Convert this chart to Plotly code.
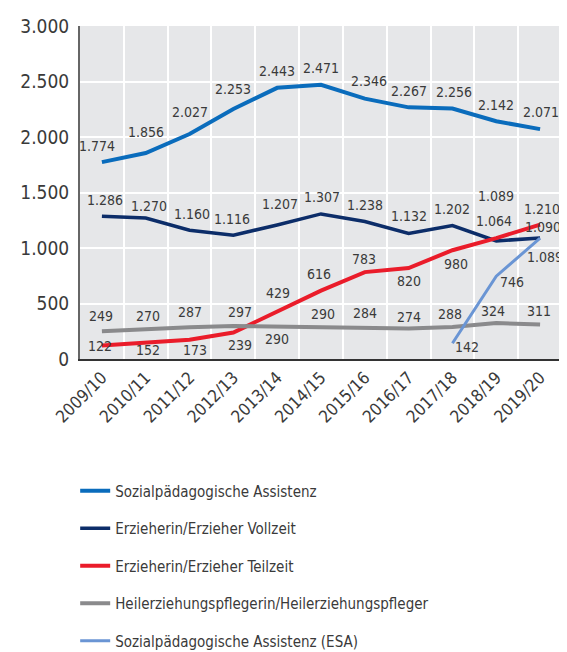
import plotly.graph_objects as go

categories = ["2009/10", "2010/11", "2011/12", "2012/13", "2013/14", "2014/15",
              "2015/16", "2016/17", "2017/18", "2018/19", "2019/20"]
sozial = [1774, 1856, 2027, 2253, 2443, 2471, 2346, 2267, 2256, 2142, 2071]
vollzeit = [1286, 1270, 1160, 1116, 1207, 1307, 1238, 1132, 1202, 1064, 1090]
teilzeit = [122, 152, 173, 239, 429, 616, 783, 820, 980, 1089, 1210]
heil = [249, 270, 287, 297, 290, 290, 284, 274, 288, 324, 311]
esa = [None, None, None, None, None, None, None, None, 142, 746, 1089]
y_ticks = [0, 500, 1000, 1500, 2000, 2500, 3000]

names = ["Sozialpädagogische Assistenz", "Erzieherin/Erzieher Vollzeit",
         "Erzieherin/Erzieher Teilzeit", "Heilerziehungspflegerin/Heilerziehungspfleger",
         "Sozialpädagogische Assistenz (ESA)"]
series = [sozial, vollzeit, teilzeit, heil, esa]
colors = ["#0a6cbc", "#0c2d69", "#ea1c2a", "#8a8a8c", "#6a95d4"]
widths = [4, 3.5, 4, 4, 3]

# label offsets in pixels (dx, dy; dy positive = up) – styling only
label_dx = [
    [-5, 0, 0, 0, 0, 0, 4, 0, 2, 0, 1],
    [3, 3, 2, -1, 3, 1, 0, 0, 0, -2, 3],
    [-2, 2, 5, 7, 1, -2, -1, 0, 4, 0, 2],
    [-1, 2, 0, 7, 0, 2, 0, 0, -2, -3, -1],
    [0, 0, 0, 0, 0, 0, 0, 0, 15, 16, 5],
]
label_dy = [
    [16, 21, 22, 20, 17, 17, 18, 16, 17, 16, 17],
    [16, 12, 16, 16, 21, 17, 17, 17, 17, 20, 11],
    [-1, -8, -10, -13, 18, 17, 13, -13, -14, 42, 16],
    [15, 13, 15, 14, -12, 13, 14, 12, 13, 12, 13],
    [0, 0, 0, 0, 0, 0, 0, 0, -4, -6, -19],
]

def fmt(v):
    return f"{v:,}".replace(",", ".")

FONT = "DejaVu Sans Condensed, Liberation Sans Narrow, sans-serif"
TXT = "#3a3a3a"

fig = go.Figure()
for i, (name, vals) in enumerate(zip(names, series)):
    fig.add_trace(go.Scatter(
        x=categories, y=vals, name=name, mode="lines",
        line=dict(color=colors[i], width=widths[i]),
        legendgroup=f"g{i}", connectgaps=False,
    ))
    for j, v in enumerate(vals):
        if v is None:
            continue
        fig.add_annotation(
            x=categories[j], y=v, text=fmt(v), showarrow=False,
            xshift=label_dx[i][j], yshift=label_dy[i][j],
            font=dict(family=FONT, size=14, color=TXT),
        )

# the page body has an 8px default margin, so the figure is sized to fit
fig.update_layout(
    width=559, height=644,
    margin=dict(l=72, r=5, t=18, b=293, autoexpand=False),
    paper_bgcolor="white", plot_bgcolor="#e6e7e9",
    separators=",.",
    font=dict(family=FONT, color=TXT),
    showlegend=True,
    legend=dict(x=-0.01, xanchor="left", y=-0.347, yanchor="top",
                font=dict(family=FONT, size=15, color=TXT),
                tracegroupgap=15, bgcolor="rgba(0,0,0,0)"),
)
fig.update_xaxes(
    type="category", range=[-0.5, 10.5], tickson="boundaries",
    showgrid=True, gridcolor="white", gridwidth=1.5,
    tickangle=-45, tickfont=dict(family=FONT, size=17, color=TXT),
    showline=True, linecolor="#333333", linewidth=2, ticks="",
)
fig.update_yaxes(
    range=[0, 3000], tickvals=y_ticks, tickformat=",d",
    showgrid=True, gridcolor="white", gridwidth=1.5,
    tickfont=dict(family=FONT, size=19, color=TXT),
    showline=True, linecolor="#666666", linewidth=2, ticks="", zeroline=False,
    ticklabelstandoff=5,
)
fig.write_html("out.html")
